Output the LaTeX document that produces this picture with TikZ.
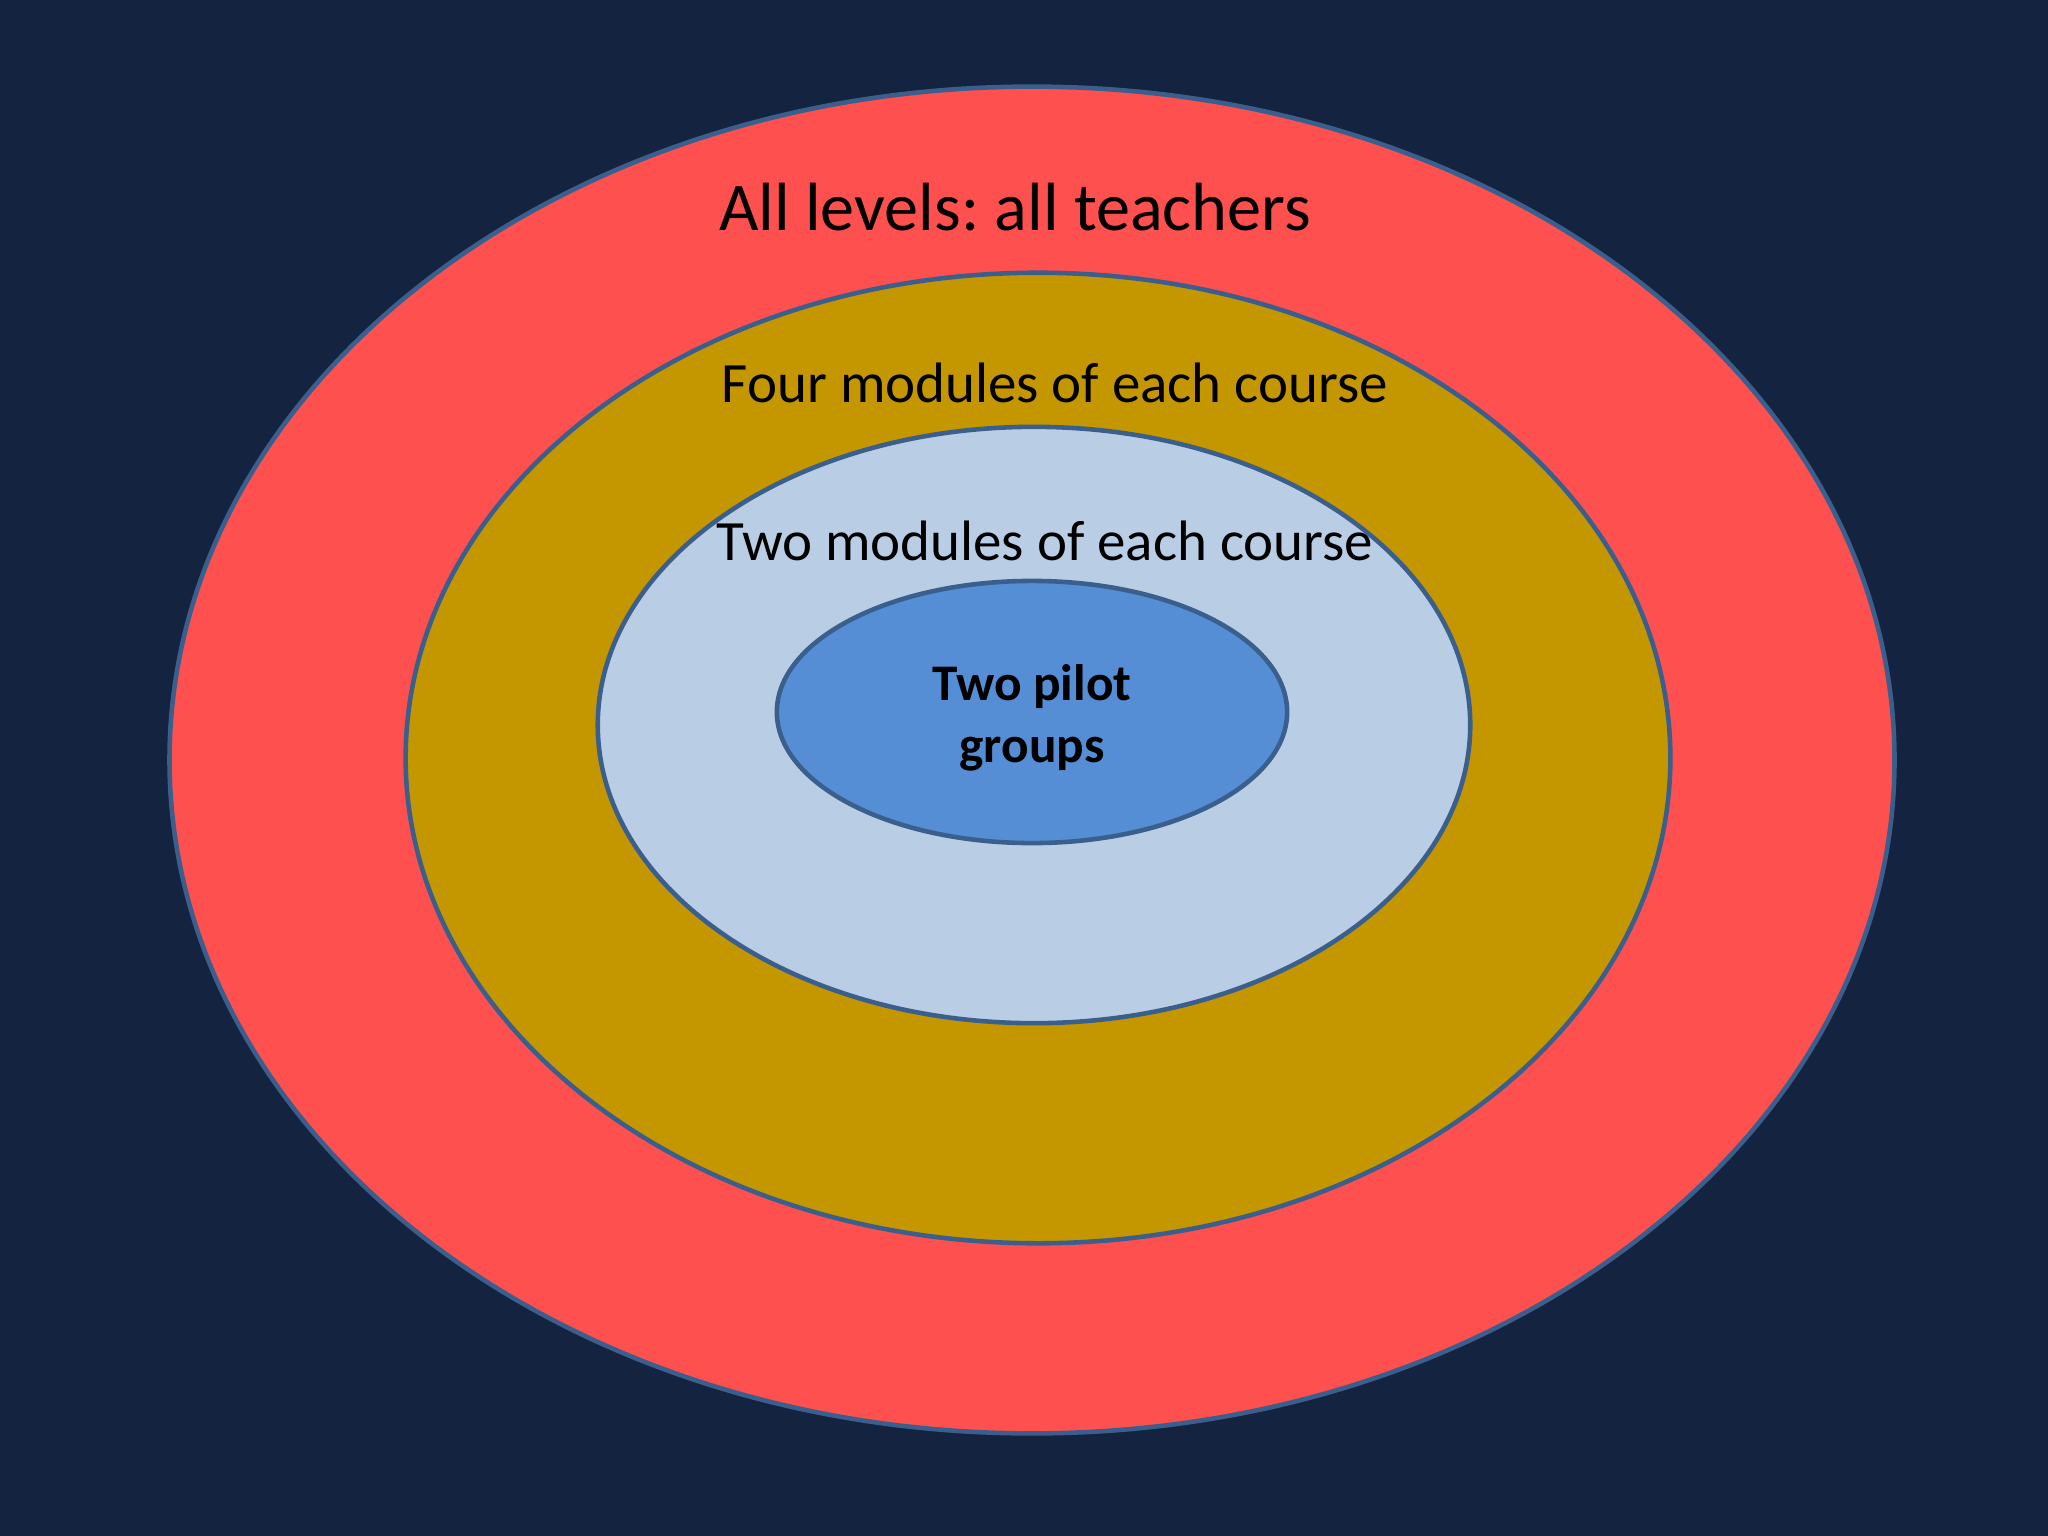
\documentclass[tikz,border=0pt]{standalone}
\usepackage{fontspec}
\setmainfont{Carlito}
\usepackage{tikz}
\usetikzlibrary{shapes,positioning}
\usepackage{xcolor}
\definecolor{bgnavy}{RGB}{20,35,64}
\definecolor{ringred}{RGB}{255,80,80}
\definecolor{ringgold}{RGB}{196,150,0}
\definecolor{ringlight}{RGB}{185,205,229}
\definecolor{ringblue}{RGB}{85,142,213}
\definecolor{ringedge}{RGB}{58,95,141}
\tikzstyle{ring} = [ellipse, draw=ringedge, line width=1.3pt, inner sep=0pt]
\tikzstyle{ringlabel} = [anchor=base, inner sep=0pt, text=black, font=\fontsize{16.2}{19.4}\selectfont]
\frenchspacing

\begin{document}
\begin{tikzpicture}[x=0.01cm, y=-0.01cm]
% Background
\fill[bgnavy] (0,0) rectangle (2048,1536);
\useasboundingbox (0,0) rectangle (2048,1536);

% Rings
\node[ring, fill=ringred, minimum width=17.24cm, minimum height=13.46cm] (all) at (1032,760) {};
\node[ring, fill=ringgold, minimum width=12.64cm, minimum height=9.70cm] (four) at (1038,758) {};
\node[ring, fill=ringlight, minimum width=8.72cm, minimum height=5.96cm] (two) at (1034,725) {};
\node[ring, fill=ringblue, minimum width=5.10cm, minimum height=2.62cm] (pilot) at (1032,712) {};

% Labels
\node[ringlabel, font=\fontsize{19.4}{23.3}\selectfont] (alllabel) at (1015,230) {All levels: all teachers};
\node[ringlabel] (fourlabel) at (1055,402) {Four modules of each course};
\node[ringlabel] (twolabel) at (1045,560) {Two modules of each course};
\node[align=center, text=black, font=\bfseries\fontsize{14.6}{17.8}\selectfont] (pilotlabel) at (1032,718) {Two pilot\\groups};
\end{tikzpicture}
\end{document}
